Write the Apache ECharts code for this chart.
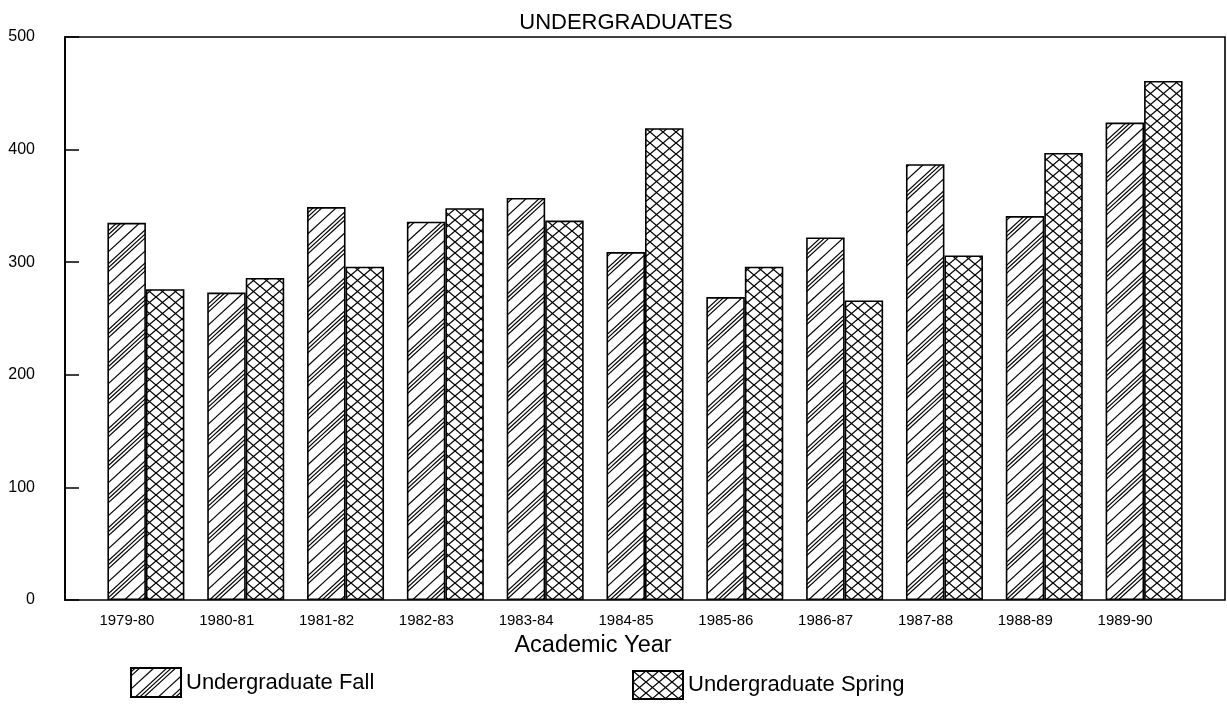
<!DOCTYPE html>
<html>
<head>
<meta charset="utf-8">
<script src="https://cdn.jsdelivr.net/npm/echarts@6/dist/echarts.min.js"></script>
<style>
html,body{margin:0;padding:0;background:#fff;}
#chart{width:1227px;height:707px;}
</style>
</head>
<body>
<div id="chart"></div>
<script>
// ---- data ----
const categories = ['1979-80','1980-81','1981-82','1982-83','1983-84','1984-85','1985-86','1986-87','1987-88','1988-89','1989-90'];
const fallValues = [335, 273, 349, 336, 357, 309, 269, 322, 387, 341, 424];
const springValues = [276, 286, 296, 348, 337, 419, 296, 266, 306, 397, 461];
const yTicks = [0, 100, 200, 300, 400, 500];
const titleText = 'UNDERGRADUATES';
const xAxisName = 'Academic Year';
const fallName = 'Undergraduate Fall';
const springName = 'Undergraduate Spring';

// ---- hatch patterns ----
function makeFallPattern() {
  const W = 36, H = 33;
  const c = document.createElement('canvas');
  c.width = W; c.height = H;
  const g = c.getContext('2d');
  g.fillStyle = '#fff'; g.fillRect(0, 0, W, H);
  g.strokeStyle = '#000'; g.lineWidth = 1.25;
  const offsets = [0, 4, 8, 21];
  offsets.forEach(d => {
    [-H, 0, H].forEach(k => {
      g.beginPath();
      g.moveTo(-W, 2 * H + d + k);
      g.lineTo(2 * W, -H + d + k);
      g.stroke();
    });
  });
  return c;
}
function makeCrossPattern() {
  const W = 13, H = 11;
  const c = document.createElement('canvas');
  c.width = W; c.height = H;
  const g = c.getContext('2d');
  g.fillStyle = '#fff'; g.fillRect(0, 0, W, H);
  g.strokeStyle = '#000'; g.lineWidth = 1.3;
  [-1, 0, 1].forEach(i => {
    [-1, 0, 1].forEach(j => {
      const ox = i * W, oy = j * H;
      g.beginPath(); g.moveTo(ox, oy); g.lineTo(ox + W, oy + H); g.stroke();
      g.beginPath(); g.moveTo(ox + W, oy); g.lineTo(ox, oy + H); g.stroke();
    });
  });
  return c;
}
const fallFill = { image: makeFallPattern(), repeat: 'repeat' };
const springFill = { image: makeCrossPattern(), repeat: 'repeat' };

const FONT = "'Liberation Sans', Arial, Helvetica, sans-serif";

const chart = echarts.init(document.getElementById('chart'), null, { renderer: 'canvas' });
chart.setOption({
  animation: false,
  backgroundColor: '#fff',
  textStyle: { fontFamily: FONT, color: '#000' },
  title: {
    text: titleText,
    left: 621, top: 7, textAlign: 'center',
    textStyle: { fontFamily: FONT, fontSize: 22, fontWeight: 'normal', color: '#000' }
  },
  legend: [
    {
      data: [fallName], left: 125, top: 662,
      itemWidth: 50, itemHeight: 29, icon: 'rect', itemGap: 10,
      textStyle: { fontFamily: FONT, fontSize: 22, color: '#000' }
    },
    {
      data: [springName], left: 627, top: 665,
      itemWidth: 50, itemHeight: 28, icon: 'rect', itemGap: 10,
      textStyle: { fontFamily: FONT, fontSize: 22, color: '#000' }
    }
  ],
  grid: [
    { left: 65, right: 2, top: 37, bottom: 107, show: true, borderColor: '#000', borderWidth: 1.6, backgroundColor: 'transparent' },
    { left: 96, right: 33, top: 37, bottom: 107 }
  ],
  xAxis: [
    { gridIndex: 0, type: 'value', min: 0, max: 1, show: false },
    {
      gridIndex: 1, type: 'category', data: categories,
      axisLine: { show: false }, axisTick: { show: false },
      axisLabel: { fontFamily: FONT, fontSize: 15, color: '#000', margin: 13, padding: [0, 38, 0, 0], interval: 0 },
      name: xAxisName, nameLocation: 'middle', nameGap: 34,
      nameTextStyle: { fontFamily: FONT, fontSize: 23.5, color: '#000', padding: [0, 104, 0, 0] }
    }
  ],
  yAxis: [
    {
      gridIndex: 0, type: 'value', min: yTicks[0], max: yTicks[yTicks.length - 1], interval: 100,
      axisLine: { show: true, lineStyle: { color: '#000', width: 1.8 } },
      axisTick: { show: true, inside: true, length: 14, lineStyle: { color: '#000', width: 1.5 } },
      axisLabel: { fontFamily: FONT, fontSize: 16, color: '#000', margin: 30 },
      splitLine: { show: false }
    },
    { gridIndex: 1, type: 'value', min: yTicks[0], max: yTicks[yTicks.length - 1], show: false }
  ],
  series: [
    {
      name: fallName, type: 'bar', xAxisIndex: 1, yAxisIndex: 1,
      data: fallValues, barWidth: 38.5, barGap: '0%',
      itemStyle: { color: fallFill, borderColor: '#000', borderWidth: 1.6 }
    },
    {
      name: springName, type: 'bar', xAxisIndex: 1, yAxisIndex: 1,
      data: springValues, barWidth: 38.5, barGap: '0%',
      itemStyle: { color: springFill, borderColor: '#000', borderWidth: 1.6 }
    }
  ]
});
</script>
</body>
</html>
